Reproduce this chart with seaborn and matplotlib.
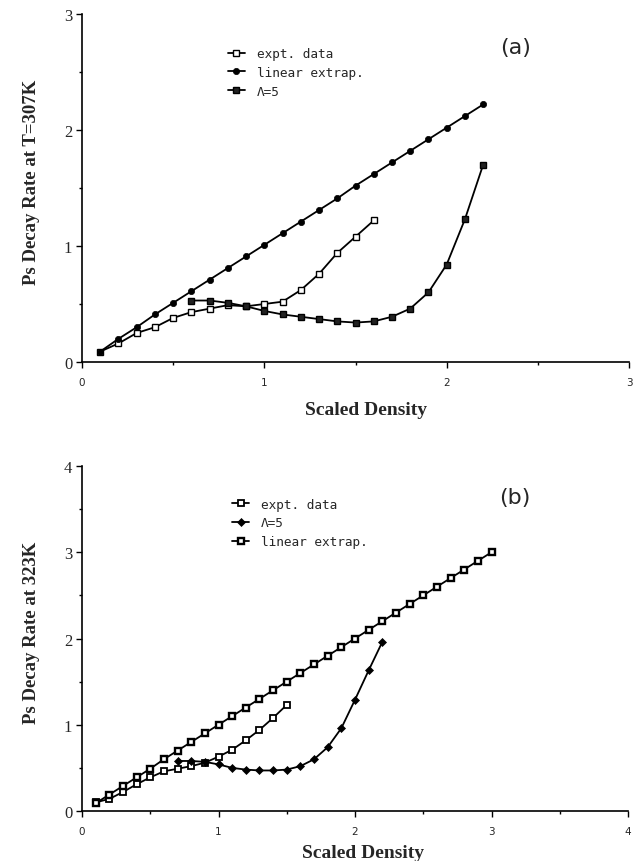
import matplotlib
matplotlib.use("Agg")
import matplotlib.pyplot as plt
import seaborn as sns
from matplotlib.ticker import MultipleLocator

sns.set_style("ticks")
plt.rcParams['font.family'] = ['DejaVu Sans']

# ---------------- Panel (a): T = 307K ----------------
a_lin_x = [0.1, 0.2, 0.3, 0.4, 0.5, 0.6, 0.7, 0.8, 0.9, 1.0, 1.1,
           1.2, 1.3, 1.4, 1.5, 1.6, 1.7, 1.8, 1.9, 2.0, 2.1, 2.2]
a_lin_y = [0.09, 0.20, 0.30, 0.41, 0.51, 0.61, 0.71, 0.81, 0.91, 1.01, 1.11,
           1.21, 1.31, 1.41, 1.52, 1.62, 1.72, 1.82, 1.92, 2.02, 2.12, 2.22]
a_expt_x = [0.1, 0.2, 0.3, 0.4, 0.5, 0.6, 0.7, 0.8, 0.9, 1.0, 1.1,
            1.2, 1.3, 1.4, 1.5, 1.6]
a_expt_y = [0.09, 0.16, 0.25, 0.30, 0.38, 0.43, 0.46, 0.49, 0.48, 0.50, 0.52,
            0.62, 0.76, 0.94, 1.08, 1.22]
a_lam_x = [0.6, 0.7, 0.8, 0.9, 1.0, 1.1, 1.2, 1.3, 1.4, 1.5, 1.6,
           1.7, 1.8, 1.9, 2.0, 2.1, 2.2]
a_lam_y = [0.53, 0.53, 0.51, 0.48, 0.44, 0.41, 0.39, 0.37, 0.35, 0.34, 0.35,
           0.39, 0.46, 0.60, 0.84, 1.23, 1.70]

# ---------------- Panel (b): T = 323K ----------------
b_expt_x = [0.1, 0.2, 0.3, 0.4, 0.5, 0.6, 0.7, 0.8, 0.9, 1.0, 1.1,
            1.2, 1.3, 1.4, 1.5]
b_expt_y = [0.10, 0.14, 0.22, 0.31, 0.39, 0.46, 0.49, 0.52, 0.56, 0.63, 0.71,
            0.82, 0.94, 1.08, 1.23]
b_lam_x = [0.7, 0.8, 0.9, 1.0, 1.1, 1.2, 1.3, 1.4, 1.5, 1.6, 1.7,
           1.8, 1.9, 2.0, 2.1, 2.2]
b_lam_y = [0.58, 0.58, 0.57, 0.54, 0.50, 0.48, 0.47, 0.47, 0.48, 0.52, 0.60,
           0.74, 0.96, 1.29, 1.63, 1.96]
b_lin_x = [0.1, 0.2, 0.3, 0.4, 0.5, 0.6, 0.7, 0.8, 0.9, 1.0,
           1.1, 1.2, 1.3, 1.4, 1.5, 1.6, 1.7, 1.8, 1.9, 2.0,
           2.1, 2.2, 2.3, 2.4, 2.5, 2.6, 2.7, 2.8, 2.9, 3.0]
b_lin_y = [0.09, 0.19, 0.29, 0.39, 0.49, 0.60, 0.70, 0.80, 0.90, 1.00,
           1.10, 1.20, 1.30, 1.40, 1.50, 1.60, 1.70, 1.80, 1.90, 2.00,
           2.10, 2.20, 2.30, 2.40, 2.50, 2.60, 2.70, 2.80, 2.90, 3.00]

a_ylabel = "Ps Decay Rate at T=307K"
b_ylabel = "Ps Decay Rate at 323K"
xlabel = "Scaled Density"

W, H = 633, 862
fig = plt.figure(figsize=(W / 100, H / 100), dpi=100)
fig.patch.set_facecolor("white")

def ax_rect(l, r, t, b):
    return [l / W, 1 - b / H, (r - l) / W, (b - t) / H]

ax1 = fig.add_axes(ax_rect(82, 629, 15, 363))
ax2 = fig.add_axes(ax_rect(82, 628, 467, 812))

LW = 1.3
open_sq = dict(marker="s", markersize=5, markerfacecolor="white",
               markeredgecolor="black", markeredgewidth=1.0)
filled_sq = dict(marker="s", markersize=5, markerfacecolor="#222222",
                 markeredgecolor="black", markeredgewidth=1.0)
b_open_sq = dict(marker="s", markersize=4.2, markerfacecolor="white",
                 markeredgecolor="black", markeredgewidth=1.3)
b_dark_sq = dict(marker="s", markersize=3.8, markerfacecolor="white",
                 markeredgecolor="black", markeredgewidth=1.7)
circ = dict(marker="o", markersize=4.5, markerfacecolor="black",
            markeredgecolor="black", markeredgewidth=0.5)
diam = dict(marker="D", markersize=4, markerfacecolor="black",
            markeredgecolor="black", markeredgewidth=0.5)

sns.lineplot(x=a_expt_x, y=a_expt_y, ax=ax1, color="black", lw=LW,
             label="expt. data", **open_sq)
sns.lineplot(x=a_lin_x, y=a_lin_y, ax=ax1, color="black", lw=LW,
             label="linear extrap.", **circ)
sns.lineplot(x=a_lam_x, y=a_lam_y, ax=ax1, color="black", lw=LW,
             label="\u039b=5", **filled_sq)

sns.lineplot(x=b_expt_x, y=b_expt_y, ax=ax2, color="black", lw=LW,
             label="expt. data", **b_open_sq)
sns.lineplot(x=b_lam_x, y=b_lam_y, ax=ax2, color="black", lw=LW,
             label="\u039b=5", **diam)
sns.lineplot(x=b_lin_x, y=b_lin_y, ax=ax2, color="black", lw=LW,
             label="linear extrap.", **b_dark_sq)

serif = ["Liberation Serif", "DejaVu Serif"]

for ax, xmax, ymax, ylab, tag, leg_anchor, tag_y in [
        (ax1, 3, 3, a_ylabel, "(a)", (0.266, 0.905), 0.905),
        (ax2, 4, 4, b_ylabel, "(b)", (0.274, 0.908), 0.91)]:
    ax.set_xlim(0, xmax)
    ax.set_ylim(0, ymax)
    ax.spines["top"].set_visible(False)
    ax.spines["right"].set_visible(False)
    for s in ("left", "bottom"):
        ax.spines[s].set_linewidth(1.2)
        ax.spines[s].set_color("black")
    ax.xaxis.set_major_locator(MultipleLocator(1))
    ax.xaxis.set_minor_locator(MultipleLocator(0.5))
    ax.yaxis.set_major_locator(MultipleLocator(1))
    ax.yaxis.set_minor_locator(MultipleLocator(0.5))
    ax.tick_params(which="major", direction="out", length=4, width=1.0,
                   color="black")
    ax.tick_params(which="minor", direction="out", length=2.5, width=1.0,
                   color="black")
    ax.tick_params(axis="x", which="major", labelsize=7.5, pad=7)
    ax.tick_params(axis="y", which="major", labelsize=12, pad=3)
    for lab in ax.get_yticklabels():
        lab.set_fontfamily(serif)
    for lab in ax.get_xticklabels():
        lab.set_fontfamily(["DejaVu Sans"])
    ax.set_xlabel(xlabel, fontfamily=serif, fontweight="bold", fontsize=14)
    ax.set_ylabel(ylab, fontfamily=serif, fontweight="bold", fontsize=13.5)
    ax.set_facecolor("white")
    ax.grid(False)
    ax.legend(loc="upper left", bbox_to_anchor=leg_anchor,
              frameon=False, handlelength=1.4, handletextpad=0.9,
              borderpad=0, borderaxespad=0, labelspacing=0.45,
              prop={"family": "DejaVu Sans Mono", "size": 9.2})
    ax.text(0.792, tag_y, tag, transform=ax.transAxes, ha="center",
            va="center", fontsize=16, fontfamily="DejaVu Sans")

ax1.xaxis.set_label_coords(0.519, -0.112)
ax2.xaxis.set_label_coords(0.515, -0.096)
ax1.yaxis.set_label_coords(-0.077, 0.52)
ax2.yaxis.set_label_coords(-0.077, 0.52)

fig.savefig("out.png", dpi=100, facecolor="white")
